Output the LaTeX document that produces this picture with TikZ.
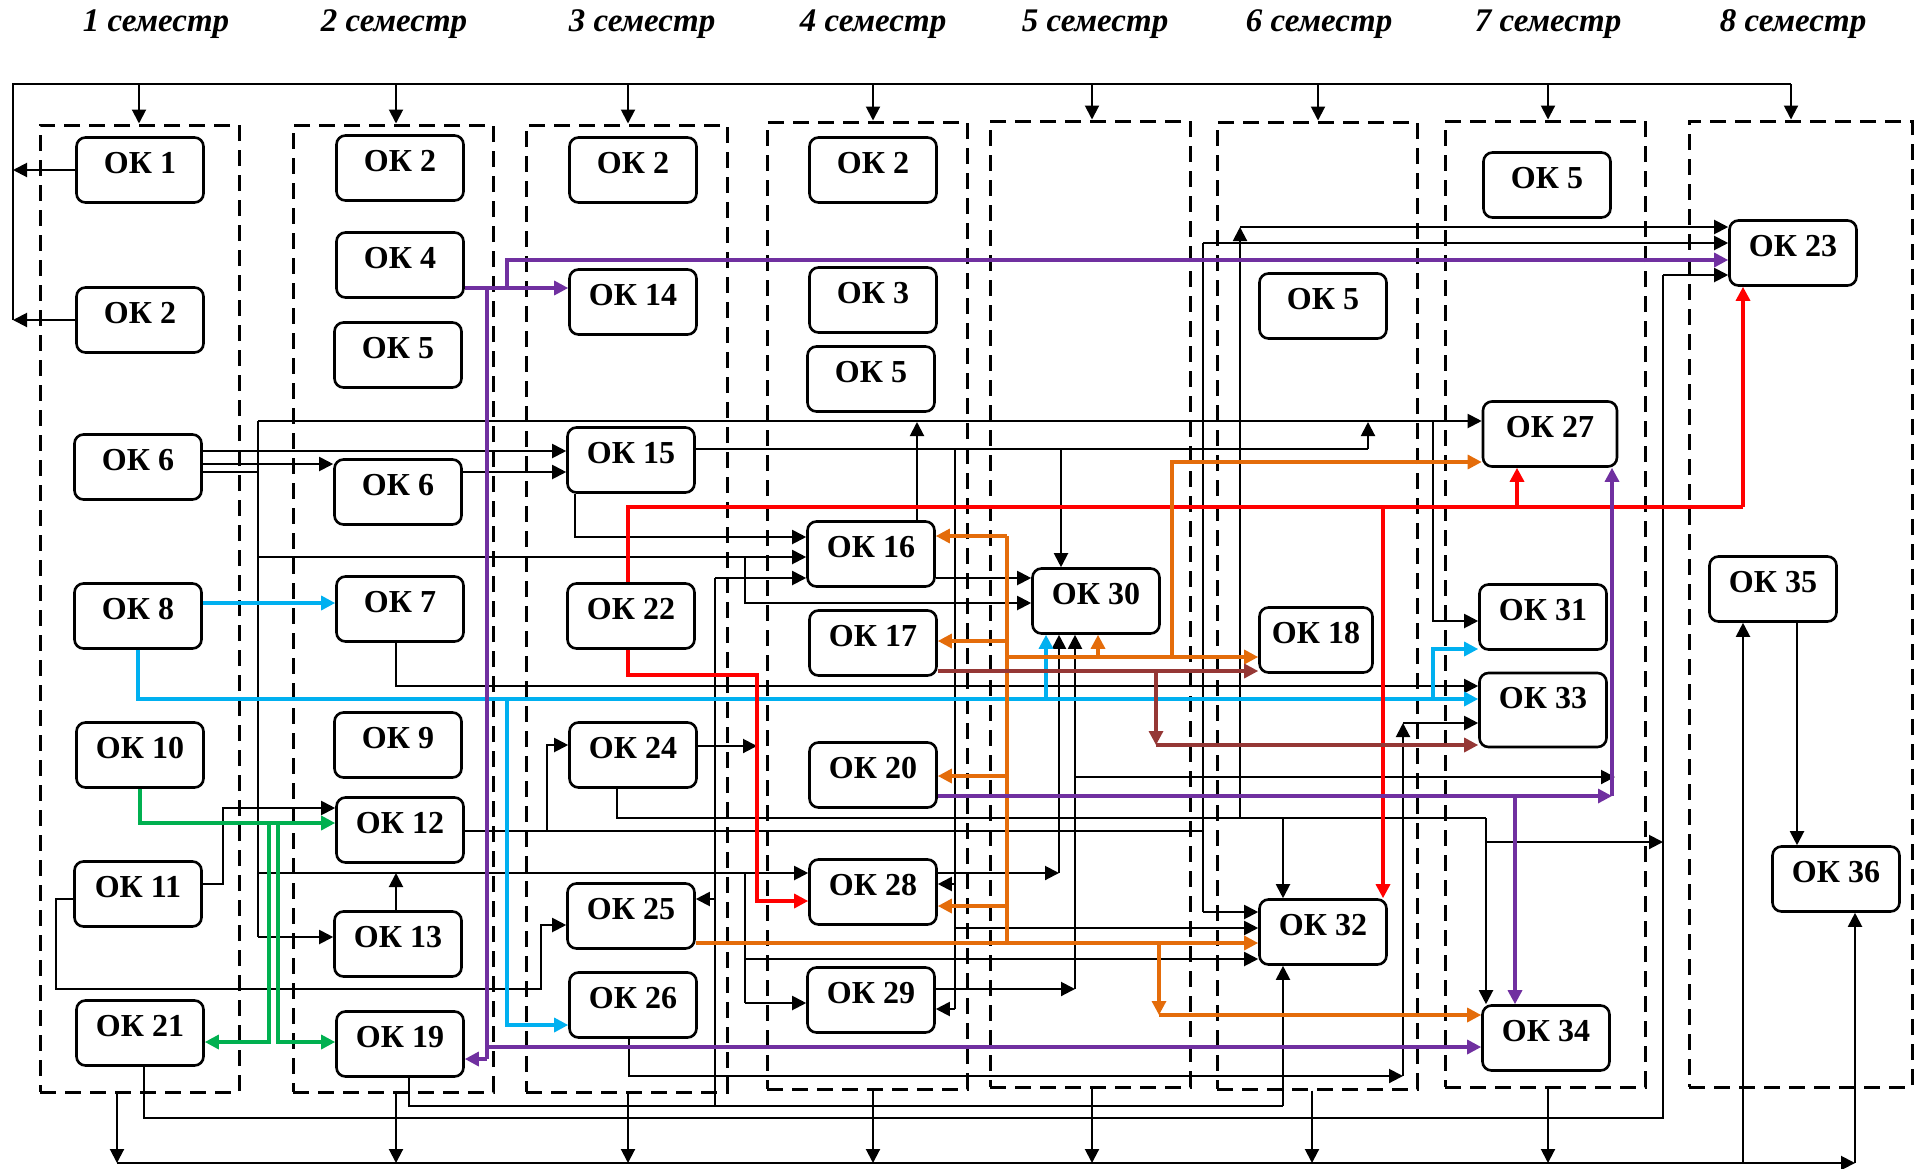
\documentclass[tikz,border=0pt]{standalone}
\usepackage{fontspec}
\setmainfont{Liberation Serif}
\usepackage{xcolor}
\usetikzlibrary{arrows.meta,fit}
\definecolor{okblue}{RGB}{0,176,240}
\definecolor{okgreen}{RGB}{0,176,80}
\definecolor{okred}{RGB}{255,0,0}
\definecolor{okorange}{RGB}{228,108,10}
\definecolor{okbrown}{RGB}{149,55,53}
\definecolor{okviolet}{RGB}{112,48,160}

\begin{document}
\begin{tikzpicture}[
  x=0.5pt,y=-0.5pt,
  ok/.style={draw,line width=1.3pt,rounded corners=4.5pt,minimum width=63.5pt,minimum height=32.5pt,inner sep=0pt,
    font=\fontsize{16}{18}\selectfont\bfseries,text height=11pt,text depth=7.5pt},
  sem/.style={draw,line width=1.5pt,dash pattern=on 8pt off 4.5pt,inner sep=0pt},
  semhead/.style={font=\fontsize{16.5}{18}\selectfont\bfseries\itshape},
  ln/.style={line width=1pt},
  arr/.style={ln,-{Triangle[length=7pt,width=7pt]}},
  cln/.style={line width=1.6pt},
  carr/.style={cln,-{Triangle[length=7pt,width=7pt]}},
]
\useasboundingbox (0,0) rectangle (1917,1168);

% semester titles and columns
\foreach \n/\x in {1/156,2/394,3/642,4/873,5/1095,6/1319,7/1548,8/1793}
  \node[semhead] (h\n) at (\x,24) {\n\ семестр};
\node[sem,fit={(40,125) (239,1092)}] (s1) {};
\node[sem,fit={(293,125) (493,1092)}] (s2) {};
\node[sem,fit={(526,125) (727,1092)}] (s3) {};
\node[sem,fit={(767,122) (967,1089)}] (s4) {};
\node[sem,fit={(990,121) (1190,1087)}] (s5) {};
\node[sem,fit={(1217,122) (1417,1089)}] (s6) {};
\node[sem,fit={(1445,121) (1645,1087)}] (s7) {};
\node[sem,fit={(1689,121) (1912,1087)}] (s8) {};

% 1
\node[ok] (ok1) at (140,170) {ОК 1};
\node[ok] (ok2a) at (140,320) {ОК 2};
\node[ok] (ok6a) at (138,467) {ОК 6};
\node[ok] (ok8) at (138,616) {ОК 8};
\node[ok] (ok10) at (140,755) {ОК 10};
\node[ok] (ok11) at (138,894) {ОК 11};
\node[ok] (ok21) at (140,1033) {ОК 21};
% 2
\node[ok] (ok2b) at (400,168) {ОК 2};
\node[ok] (ok4) at (400,265) {ОК 4};
\node[ok] (ok5a) at (398,355) {ОК 5};
\node[ok] (ok6b) at (398,492) {ОК 6};
\node[ok] (ok7) at (400,609) {ОК 7};
\node[ok] (ok9) at (398,745) {ОК 9};
\node[ok] (ok12) at (400,830) {ОК 12};
\node[ok] (ok13) at (398,944) {ОК 13};
\node[ok] (ok19) at (400,1044) {ОК 19};
% 3
\node[ok] (ok2c) at (633,170) {ОК 2};
\node[ok] (ok14) at (633,302) {ОК 14};
\node[ok] (ok15) at (631,460) {ОК 15};
\node[ok] (ok22) at (631,616) {ОК 22};
\node[ok] (ok24) at (633,755) {ОК 24};
\node[ok] (ok25) at (631,916) {ОК 25};
\node[ok] (ok26) at (633,1005) {ОК 26};
% 4
\node[ok] (ok2d) at (873,170) {ОК 2};
\node[ok] (ok3) at (873,300) {ОК 3};
\node[ok] (ok5b) at (871,379) {ОК 5};
\node[ok] (ok16) at (871,554) {ОК 16};
\node[ok] (ok17) at (873,643) {ОК 17};
\node[ok] (ok20) at (873,775) {ОК 20};
\node[ok] (ok28) at (873,892) {ОК 28};
\node[ok] (ok29) at (871,1000) {ОК 29};
% 5
\node[ok] (ok30) at (1096,601) {ОК 30};
% 6
\node[ok] (ok5c) at (1323,306) {ОК 5};
\node[ok,minimum width=56.5pt] (ok18) at (1316,640) {ОК 18};
\node[ok] (ok32) at (1323,932) {ОК 32};
% 7
\node[ok] (ok5d) at (1547,185) {ОК 5};
\node[ok,minimum width=67pt] (ok27) at (1550,434) {ОК 27};
\node[ok] (ok31) at (1543,617) {ОК 31};
\node[ok,minimum height=37pt,text depth=13pt] (ok33) at (1543,710) {ОК 33};
\node[ok] (ok34) at (1546,1038) {ОК 34};
% 8
\node[ok] (ok23) at (1793,253) {ОК 23};
\node[ok] (ok35) at (1773,589) {ОК 35};
\node[ok] (ok36) at (1836,879) {ОК 36};

% top bus
\coordinate (tl) at (13,84);
\coordinate (tr) at (1791,84);
\draw[ln] (ok2a.west -| tl) -- (tl) -- (tr);
\draw[arr] (ok1.west) -- (ok1.west -| tl);
\draw[arr] (ok2a.west) -- (ok2a.west -| tl);
\foreach \c/\x in {s1/139,s2/396,s3/628,s4/873,s5/1092,s6/1318,s7/1548,s8/1791}
  \draw[arr] (\x,0 |- tl) -- (\x,0 |- \c.north);

% bottom bus
\coordinate (bl) at (117,1163);
\coordinate (br) at (1855,1163);
\foreach \c/\x in {s1/117,s2/396,s3/628,s4/873,s5/1092,s6/1312,s7/1548}
  \draw[arr] (\x,0 |- \c.south) -- (\x,0 |- bl);
\draw[arr] (bl) -- (br);
\draw[arr] (br) -- (br |- ok36.south);
\draw[arr] (bl -| 1743,0) -- (1743,0 |- ok35.south);
\draw[arr] (1797,0 |- ok35.south) -- (1797,0 |- ok36.north);

% black links
\draw[arr] (ok6a.east |- 0,451) -- (ok15.west |- 0,451);
\draw[arr] (ok6a.east |- 0,464) -- (ok6b.west |- 0,464);
\draw[ln] (ok6a.east |- 0,472) -- (258,472);
\draw[ln] (258,421) -- (258,937);
\draw[arr] (258,421) -- (ok27.west |- 0,421);
\draw[arr] (258,557) -- (ok16.west |- 0,557);
\draw[arr] (258,873) -- (ok28.west |- 0,873);
\draw[arr] (258,937) -- (ok13.west |- 0,937);
\draw[arr] (745,557) -- (745,603) -- (ok30.west |- 0,603);
\draw[arr] (ok6b.east |- 0,472) -- (ok15.west |- 0,472);
\draw[arr] (575,0 |- ok15.south) -- (575,537) -- (ok16.west |- 0,537);
\draw[ln] (ok15.east |- 0,449) -- (1368,449);
\draw[arr] (1368,449) -- (1368,422);
\draw[arr] (1061,449) -- (1061,0 |- ok30.north);
\draw[ln] (955,449) -- (955,1009);
\draw[arr] (955,884) -- (ok28.east |- 0,884);
\draw[arr] (955,1009) -- (ok29.east |- 0,1009);
\draw[arr] (955,928) -- (ok32.west |- 0,928);
\draw[arr] (917,0 |- ok16.north) -- (917,422);
\draw[arr] (ok16.east |- 0,578) -- (ok30.west |- 0,578);
\draw[ln] (409,0 |- ok19.south) -- (409,1106) -- (1283,1106);
\draw[arr] (1283,1106) -- (1283,0 |- ok32.south);
\draw[ln] (715,1106) -- (715,578);
\draw[arr] (715,578) -- (ok16.west |- 0,578);
\draw[arr] (715,899) -- (ok25.east |- 0,899);
\draw[ln] (144,0 |- ok21.south) -- (144,1118) -- (1663,1118) -- (1663,275);
\draw[arr] (1663,275) -- (ok23.west |- 0,275);
\draw[ln] (ok12.east |- 0,831) -- (1203,831);
\draw[arr] (547,831) -- (547,745) -- (ok24.west |- 0,745);
\draw[ln] (1203,243) -- (1203,912);
\draw[arr] (1203,243) -- (ok23.west |- 0,243);
\draw[arr] (1203,912) -- (ok32.west |- 0,912);
\draw[ln] (617,0 |- ok24.south) -- (617,818) -- (1486,818);
\draw[arr] (1486,818) -- (1486,0 |- ok34.north);
\draw[arr] (1283,818) -- (1283,0 |- ok32.north);
\draw[arr] (1486,842) -- (1663,842);
\draw[arr] (1240,818) -- (1240,227);
\draw[arr] (1240,227) -- (ok23.west |- 0,227);
\draw[arr] (ok24.east |- 0,746) -- (757,746);
\draw[arr] (396,0 |- ok7.south) -- (396,686) -- (ok33.west |- 0,686);
\draw[arr] (ok11.east |- 0,884) -- (223,884) -- (223,808) -- (ok12.west |- 0,808);
\draw[arr] (ok11.west |- 0,899) -- (56,899) -- (56,989) -- (541,989) -- (541,925) -- (ok25.west |- 0,925);
\draw[arr] (396,0 |- ok13.north) -- (396,873);
\draw[arr] (ok28.east |- 0,873) -- (1059,873);
\draw[arr] (1059,873) -- (1059,0 |- ok30.south);
\draw[ln] (745,873) -- (745,1003);
\draw[arr] (745,1003) -- (ok29.west |- 0,1003);
\draw[arr] (745,959) -- (ok32.west |- 0,959);
\draw[arr] (ok29.east |- 0,989) -- (1075,989);
\draw[arr] (1075,989) -- (1075,0 |- ok30.south);
\draw[arr] (1075,777) -- (1615,777);
\draw[arr] (629,0 |- ok26.south) -- (629,1076) -- (1403,1076);
\draw[arr] (1403,1076) -- (1403,723);
\draw[arr] (1403,723) -- (ok33.west |- 0,723);
\draw[arr] (1433,421) -- (1433,621) -- (ok31.west |- 0,621);

% blue
\draw[carr,okblue] (ok8.east |- 0,603) -- (ok7.west |- 0,603);
\draw[carr,okblue] (138,0 |- ok8.south) -- (138,699) -- (ok33.west |- 0,699);
\draw[carr,okblue] (507,699) -- (507,1025) -- (ok26.west |- 0,1025);
\draw[carr,okblue] (1046,699) -- (1046,0 |- ok30.south);
\draw[carr,okblue] (1433,699) -- (1433,649) -- (ok31.west |- 0,649);

% green
\draw[carr,okgreen] (140,0 |- ok10.south) -- (140,823) -- (ok12.west |- 0,823);
\draw[carr,okgreen] (269,823) -- (269,1042) -- (ok21.east |- 0,1042);
\draw[carr,okgreen] (278,823) -- (278,1042) -- (ok19.west |- 0,1042);

% red
\draw[cln,okred] (628,0 |- ok22.north) -- (628,507) -- (1743,507);
\draw[carr,okred] (1743,507) -- (1743,0 |- ok23.south);
\draw[carr,okred] (1517,507) -- (1517,0 |- ok27.south);
\draw[carr,okred] (1383,507) -- (1383,0 |- ok32.north);
\draw[carr,okred] (628,0 |- ok22.south) -- (628,675) -- (757,675) -- (757,901) -- (ok28.west |- 0,901);

% orange
\draw[carr,okorange] (ok25.east |- 0,943) -- (ok32.west |- 0,943);
\draw[cln,okorange] (1007,943) -- (1007,536);
\draw[carr,okorange] (1007,536) -- (ok16.east |- 0,536);
\draw[carr,okorange] (1007,641) -- (ok17.east |- 0,641);
\draw[carr,okorange] (1007,776) -- (ok20.east |- 0,776);
\draw[carr,okorange] (1007,906) -- (ok28.east |- 0,906);
\draw[carr,okorange] (1007,657) -- (ok18.west |- 0,657);
\draw[carr,okorange] (1098,657) -- (1098,0 |- ok30.south);
\draw[carr,okorange] (1172,657) -- (1172,462) -- (ok27.west |- 0,462);
\draw[carr,okorange] (1159,943) -- (1159,1015);
\draw[carr,okorange] (1159,1015) -- (ok34.west |- 0,1015);

% brown
\draw[carr,okbrown] (ok17.east |- 0,671) -- (ok18.west |- 0,671);
\draw[carr,okbrown] (1156,671) -- (1156,745);
\draw[carr,okbrown] (1156,745) -- (ok33.west |- 0,745);

% violet
\draw[carr,okviolet] (ok4.east |- 0,288) -- (ok14.west |- 0,288);
\draw[cln,okviolet] (487,288) -- (487,1059);
\draw[carr,okviolet] (487,1059) -- (ok19.east |- 0,1059);
\draw[carr,okviolet] (507,288) -- (507,260) -- (ok23.west |- 0,260);
\draw[carr,okviolet] (487,1047) -- (ok34.west |- 0,1047);
\draw[carr,okviolet] (ok20.east |- 0,796) -- (1612,796);
\draw[carr,okviolet] (1612,796) -- (1612,0 |- ok27.south);
\draw[carr,okviolet] (1515,796) -- (1515,0 |- ok34.north);
\end{tikzpicture}
\end{document}
